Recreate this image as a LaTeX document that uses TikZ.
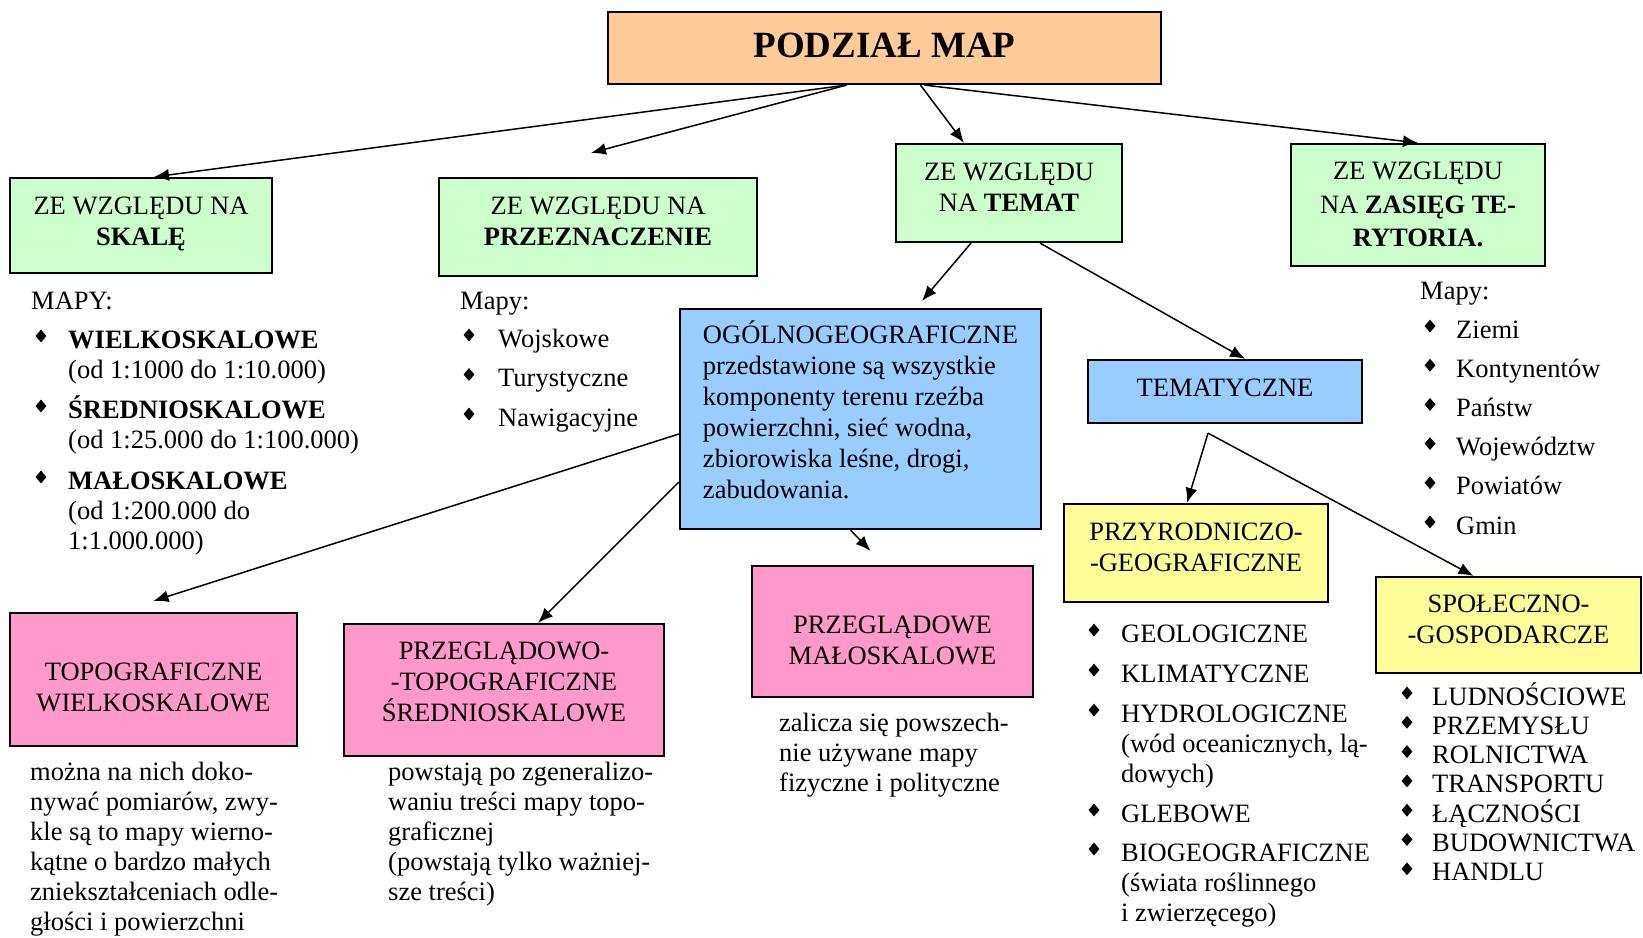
\documentclass[tikz,border=0pt]{standalone}
\usepackage{fontspec}
\setmainfont{Liberation Serif}
\usetikzlibrary{calc, shapes.geometric, arrows.meta}

\definecolor{peach}{HTML}{FFCC99}
\definecolor{zielony}{HTML}{CCFFCC}
\definecolor{niebieski}{HTML}{99CCFF}
\definecolor{zolty}{HTML}{FFFF99}
\definecolor{rozowy}{HTML}{FF99CC}

% several lines, baseline of the first one
\newcommand{\wiersze}[1]{\begin{tabular}[t]{@{}l@{}}#1\end{tabular}}

\tikzset{
  box/.style={draw, line width=2.2pt, align=center, inner sep=0pt, font=\fontsize{26.5}{31}\selectfont},
  % last baseline sits #1/2 below the box centre
  lastbase/.style={text depth=0pt, text height=#1},
  arr/.style={line width=1.5pt, -{Latex[length=15pt,width=12pt]}},
  txt/.style={anchor=base west, inner sep=0pt, font=\fontsize{26.5}{30}\selectfont},
  bul/.style={diamond, fill=black, inner sep=0pt, minimum width=11pt, minimum height=13pt},
}

\begin{document}
\begin{tikzpicture}[x=1pt, y=-1pt]
    \useasboundingbox (0,0) rectangle (1643,937);

    % Title
    \node[box, lastbase=18pt, fill=peach, minimum width=553pt, minimum height=72pt] (title) at (884.5,48)
        {\fontsize{37}{44}\selectfont\bfseries PODZIAŁ MAP};

    % First level
    \node[box, lastbase=40pt, fill=zielony, minimum width=262pt, minimum height=95pt] (skala) at (141,225.5)
        {ZE WZGLĘDU NA\\\textbf{SKALĘ}};
    \node[box, lastbase=36pt, fill=zielony, minimum width=318pt, minimum height=98pt] (przezn) at (598,227)
        {ZE WZGLĘDU NA\\\textbf{PRZEZNACZENIE}};
    \node[box, lastbase=37pt, fill=zielony, minimum width=226pt, minimum height=98pt] (temat) at (1009,193)
        {ZE WZGLĘDU\\NA \textbf{TEMAT}};
    \node[box, lastbase=83pt, fill=zielony, minimum width=254pt, minimum height=122pt,
          font=\fontsize{26.5}{33.5}\selectfont] (zasieg) at (1418,205)
        {ZE WZGLĘDU\\NA \textbf{ZASIĘG TE-}\\\textbf{RYTORIA.}};

    % Second level
    \node[box, lastbase=158pt, fill=niebieski, align=left, minimum width=361pt, minimum height=220pt] (ogolno) at (860.5,419)
        {OGÓLNOGEOGRAFICZNE\\przedstawione są wszystkie\\komponenty terenu rzeźba\\powierzchni, sieć wodna,\\zbiorowiska leśne, drogi,\\zabudowania.};
    \node[box, lastbase=10pt, fill=niebieski, minimum width=274pt, minimum height=63pt] (tematyczne) at (1225,391.5)
        {TEMATYCZNE};
    \node[box, lastbase=37pt, fill=zolty, minimum width=264pt, minimum height=98pt] (przyr) at (1196,553)
        {PRZYRODNICZO-\\-GEOGRAFICZNE};
    \node[box, lastbase=37pt, fill=zolty, minimum width=265pt, minimum height=96pt] (spol) at (1508.5,625)
        {SPOŁECZNO-\\-GOSPODARCZE};

    % Third level
    \node[box, lastbase=64pt, fill=rozowy, minimum width=287pt, minimum height=133pt] (topo) at (153.5,679.5)
        {TOPOGRAFICZNE\\WIELKOSKALOWE};
    \node[box, lastbase=63pt, fill=rozowy, minimum width=320pt, minimum height=132pt] (przto) at (504,690)
        {PRZEGLĄDOWO-\\-TOPOGRAFICZNE\\ŚREDNIOSKALOWE};
    \node[box, lastbase=65pt, fill=rozowy, minimum width=281pt, minimum height=131pt] (przmal) at (892.5,631.5)
        {PRZEGLĄDOWE\\MAŁOSKALOWE};

    % Arrows
    \draw[arr] ($(title.south)+(-38,0)$) -- ($(skala.north)+(13,0)$);
    \draw[arr] ($(title.south)+(-38,0)$) -- ($(przezn.north)+(-7,-24)$);
    \draw[arr] ($(title.south)+(36,0)$) -- ($(temat.north)+(-45,0)$);
    \draw[arr] ($(title.south)+(40,0)$) -- (zasieg.north);
    \draw[arr] ($(temat.south)+(-38,0)$) -- ($(ogolno.north)+(61.5,-7)$);
    \draw[arr] ($(temat.south)+(31,0)$) -- ($(tematyczne.north)+(20,0)$);
    \coordinate (rozg) at ($(tematyczne.south)+(-17,9)$);
    \draw[arr] (rozg) -- ($(przyr.north)+(-9,0)$);
    \draw[arr] (rozg) -- ($(spol.north)+(-35,0)$);
    \draw[arr] ($(ogolno.south)+(-10,0)$) -- ($(przmal.north)+(-22,-14)$);
    \draw[arr] ($(ogolno.west)+(0,15)$) -- ($(topo.north)+(0,-11)$);
    \draw[arr] ($(ogolno.west)+(0,63)$) -- ($(przto.north)+(34,0)$);

    % Skala list
    \node[txt] (mapy1) at (31,309) {MAPY:};
    \node[bul] (lb1) at (41,336) {};
    \node[txt] (wk) at (68,348) {\wiersze{\textbf{WIELKOSKALOWE}\\(od 1:1000 do 1:10.000)}};
    \node[bul] (lb2) at (41,406) {};
    \node[txt] (sr) at (68,418) {\wiersze{\textbf{ŚREDNIOSKALOWE}\\(od 1:25.000 do 1:100.000)}};
    \node[bul] (lb3) at (41,477) {};
    \node[txt] (ml) at (68,489) {\wiersze{\textbf{MAŁOSKALOWE}\\(od 1:200.000 do\\1:1.000.000)}};

    % Przeznaczenie list
    \node[txt] (mapy2) at (460,309) {Mapy:};
    \foreach \t [count=\i] in {Wojskowe, Turystyczne, Nawigacyjne} {
        \node[bul] (pb\i) at (469,335+39.5*\i-39.5) {};
        \node[txt] (pt\i) at (498,347+39.5*\i-39.5) {\t};
    }

    % Zasieg list
    \node[txt] (mapy3) at (1420,299) {Mapy:};
    \foreach \t [count=\i] in {Ziemi, Kontynentów, Państw, Województw, Powiatów, Gmin} {
        \node[bul] (zb\i) at (1430,326+39.2*\i-39.2) {};
        \node[txt] (zt\i) at (1456,338+39.2*\i-39.2) {\t};
    }

    % Przyrodniczo list
    \node[bul] (gb1) at (1094,630) {};
    \node[txt] (g1) at (1121,642) {GEOLOGICZNE};
    \node[bul] (gb2) at (1094,670) {};
    \node[txt] (g2) at (1121,682) {KLIMATYCZNE};
    \node[bul] (gb3) at (1094,710) {};
    \node[txt] (g3) at (1121,722) {\wiersze{HYDROLOGICZNE\\(wód oceanicznych, lą-\\dowych)}};
    \node[bul] (gb4) at (1094,810) {};
    \node[txt] (g4) at (1121,822) {GLEBOWE};
    \node[bul] (gb5) at (1094,849) {};
    \node[txt] (g5) at (1121,861) {\wiersze{BIOGEOGRAFICZNE\\(świata roślinnego\\i zwierzęcego)}};

    % Spoleczno list
    \foreach \t [count=\i] in {LUDNOŚCIOWE, PRZEMYSŁU, ROLNICTWA, TRANSPORTU, ŁĄCZNOŚCI, BUDOWNICTWA, HANDLU} {
        \node[bul] (sb\i) at (1407,693+29.3*\i-29.3) {};
        \node[txt] (st\i) at (1432,705+29.3*\i-29.3) {\t};
    }

    % Descriptions
    \node[txt] (opis1) at (30,780) {\wiersze{można na nich doko-\\nywać pomiarów, zwy-\\kle są to mapy wierno-\\kątne o bardzo małych\\zniekształceniach odle-\\głości i powierzchni}};
    \node[txt] (opis2) at (388,780) {\wiersze{powstają po zgeneralizo-\\waniu treści mapy topo-\\graficznej\\(powstają tylko ważniej-\\sze treści)}};
    \node[txt] (opis3) at (779,731) {\wiersze{zalicza się powszech-\\nie używane mapy\\fizyczne i polityczne}};
\end{tikzpicture}
\end{document}
